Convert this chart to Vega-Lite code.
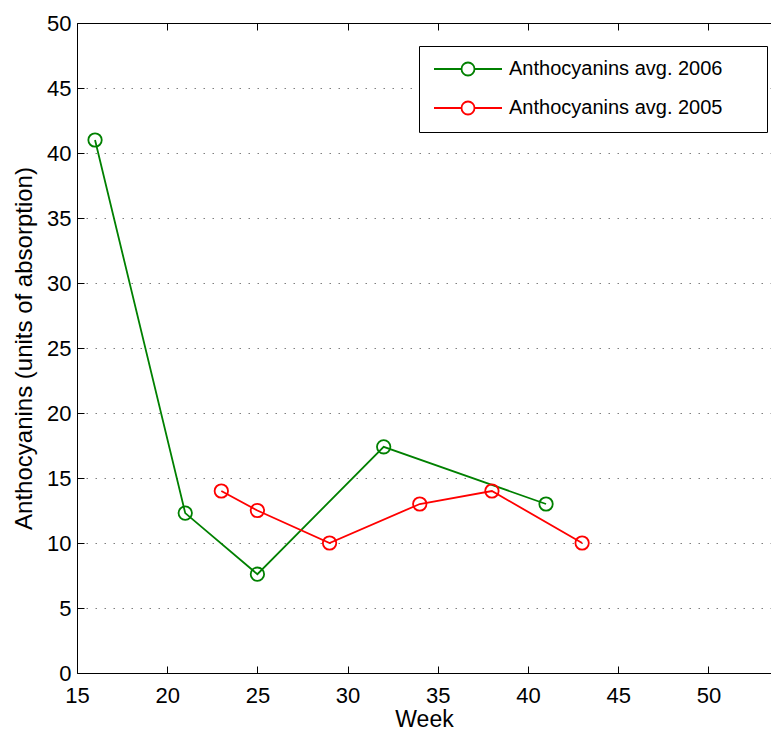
{
  "$schema": "https://vega.github.io/schema/vega-lite/v6.json",
  "width": 694,
  "height": 650,
  "autosize": {"type": "none"},
  "padding": {"left": 77, "top": 23, "right": 0, "bottom": 59},
  "background": "white",
  "config": {"view": {"stroke": null}, "font": "Liberation Sans"},
  "data": {
    "values": [
      {"week": 16, "value": 41.0, "series": "Anthocyanins avg. 2006"},
      {"week": 21, "value": 12.3, "series": "Anthocyanins avg. 2006"},
      {"week": 25, "value": 7.6, "series": "Anthocyanins avg. 2006"},
      {"week": 32, "value": 17.4, "series": "Anthocyanins avg. 2006"},
      {"week": 41, "value": 13.0, "series": "Anthocyanins avg. 2006"},
      {"week": 23, "value": 14.0, "series": "Anthocyanins avg. 2005"},
      {"week": 25, "value": 12.5, "series": "Anthocyanins avg. 2005"},
      {"week": 29, "value": 10.0, "series": "Anthocyanins avg. 2005"},
      {"week": 34, "value": 13.0, "series": "Anthocyanins avg. 2005"},
      {"week": 38, "value": 14.0, "series": "Anthocyanins avg. 2005"},
      {"week": 43, "value": 10.0, "series": "Anthocyanins avg. 2005"}
    ]
  },
  "layer": [
    {
      "mark": {"type": "line", "strokeWidth": 1.8},
      "encoding": {
        "x": {
          "field": "week", "type": "quantitative",
          "scale": {"domain": [15, 53.47], "nice": false, "zero": false},
          "axis": {
            "orient": "bottom", "title": "Week", "values": [15, 20, 25, 30, 35, 40, 45, 50],
            "grid": false, "domainColor": "black", "domainWidth": 1, "tickColor": "black",
            "tickSize": -7, "labelPadding": 19, "labelFontSize": 22, "labelColor": "black",
            "labelFont": "Liberation Sans", "titleFont": "Liberation Sans", "titleFontSize": 23,
            "titleFontWeight": "normal", "titleColor": "black", "titlePadding": 2, "labelFlush": false
          }
        },
        "y": {
          "field": "value", "type": "quantitative",
          "scale": {"domain": [0, 50], "nice": false},
          "axis": {
            "title": "Anthocyanins (units of absorption)", "values": [0, 5, 10, 15, 20, 25, 30, 35, 40, 45, 50],
            "grid": true, "gridColor": "#7f7f7f", "gridDash": [1.5, 7.5], "gridWidth": 1,
            "gridOpacity": {"condition": {"test": "datum.value == 0 || datum.value == 50", "value": 0}, "value": 1},
            "domainColor": "black", "domainWidth": 1, "tickColor": "black", "tickSize": -7,
            "labelPadding": 13, "labelFontSize": 22, "labelColor": "black", "labelFont": "Liberation Sans",
            "titleFont": "Liberation Sans", "titleFontSize": 24, "titleFontWeight": "normal",
            "titleColor": "black", "titlePadding": 10, "labelFlush": false
          }
        },
        "color": {
          "field": "series", "type": "nominal",
          "scale": {"domain": ["Anthocyanins avg. 2006", "Anthocyanins avg. 2005"], "range": ["#008000", "#ff0000"]},
          "legend": {
            "orient": "none", "legendX": 342, "legendY": 23, "title": null,
            "strokeColor": "black", "fillColor": "white", "padding": 13,
            "labelFontSize": 20, "labelFont": "Liberation Sans", "labelColor": "black", "labelLimit": 500,
            "symbolType": "M-4.25,0H-0.8125M0.8125,0H4.25M0.8125,0A0.8125,0.8125,0,1,1,-0.8125,0A0.8125,0.8125,0,1,1,0.8125,0M35.2,0",
            "symbolSize": 256, "symbolOffset": 26, "symbolStrokeWidth": 1.8,
            "symbolFillColor": "transparent", "symbolOpacity": 1,
            "labelOffset": 31, "rowPadding": 17
          }
        }
      }
    },
    {
      "mark": {"type": "point", "shape": "circle", "filled": false, "size": 180, "strokeWidth": 1.8, "opacity": 1},
      "encoding": {
        "x": {
          "field": "week", "type": "quantitative",
          "axis": {
            "orient": "top", "title": null, "labels": false, "values": [15, 20, 25, 30, 35, 40, 45, 50],
            "grid": false, "domainColor": "black", "domainWidth": 1, "tickColor": "black", "tickSize": -7
          }
        },
        "y": {"field": "value", "type": "quantitative"},
        "color": {"field": "series", "type": "nominal"}
      }
    }
  ],
  "resolve": {"axis": {"x": "independent"}}
}
